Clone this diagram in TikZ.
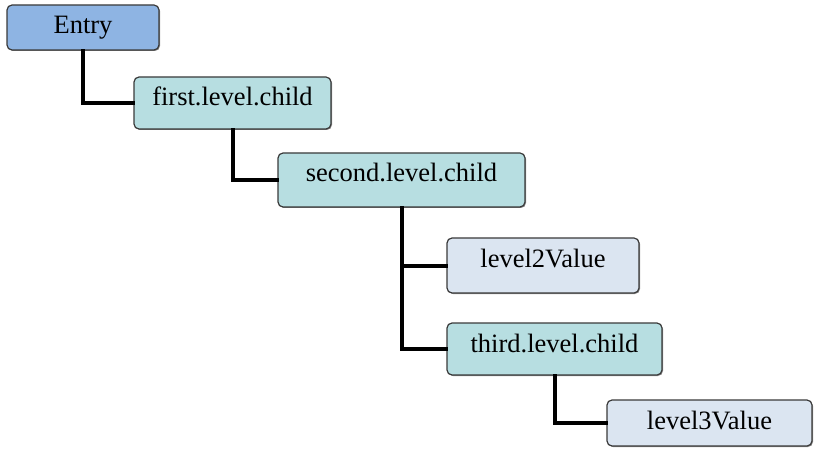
\documentclass[tikz,border=0pt]{standalone}
\usepackage{fontspec}
\setmainfont{Liberation Serif}
\usetikzlibrary{positioning,calc,shadows}

\definecolor{entryblue}{HTML}{8EB4E3}
\definecolor{childteal}{HTML}{B7DEE1}
\definecolor{valueblue}{HTML}{DBE5F1}
\definecolor{boxedge}{HTML}{3A3A3A}

\tikzset{
  treebox/.style={rectangle, rounded corners=5pt, draw=boxedge, line width=1.2pt,
    font=\fontsize{26.5}{30}\selectfont, text height=29pt, text depth=#1, inner sep=0pt,
    drop shadow={shadow xshift=1pt, shadow yshift=-1pt, opacity=0.45, fill=black}},
  entrybox/.style={treebox=#1, fill=entryblue},
  childbox/.style={treebox=#1, fill=childteal},
  valuebox/.style={treebox=#1, fill=valueblue},
  branch/.style={line width=4pt, line cap=rect}
}

\begin{document}
\begin{tikzpicture}[x=1pt, y=-1pt]
		\useasboundingbox (0,0) rectangle (814,449);
		\node[entrybox=16pt, minimum width=152pt] (Entry) at (83,27.5) {Entry};
		\node[childbox=23pt, minimum width=197pt] (First) at (232.5,103) {first.level.child};
		\node[childbox=25pt, minimum width=247pt] (Second) at (401.5,180) {second.level.child};
		\node[valuebox=26pt, minimum width=192pt] (LevelTwo) at (543,265.5) {level2Value};
		\node[childbox=23pt, minimum width=215pt] (Third) at (554.5,349) {third.level.child};
		\node[valuebox=17pt, minimum width=205pt] (LevelThree) at (709.5,423) {level3Value};
		% connectors
		\draw[branch] (Entry.south) |- (First.west);
		\draw[branch] (First.south) |- (Second.west);
		\draw[branch] (Second.south) |- (LevelTwo.west);
		\draw[branch] (Second.south) |- (Third.west);
		\draw[branch] (Third.south) |- (LevelThree.west);
	\end{tikzpicture}
\end{document}
